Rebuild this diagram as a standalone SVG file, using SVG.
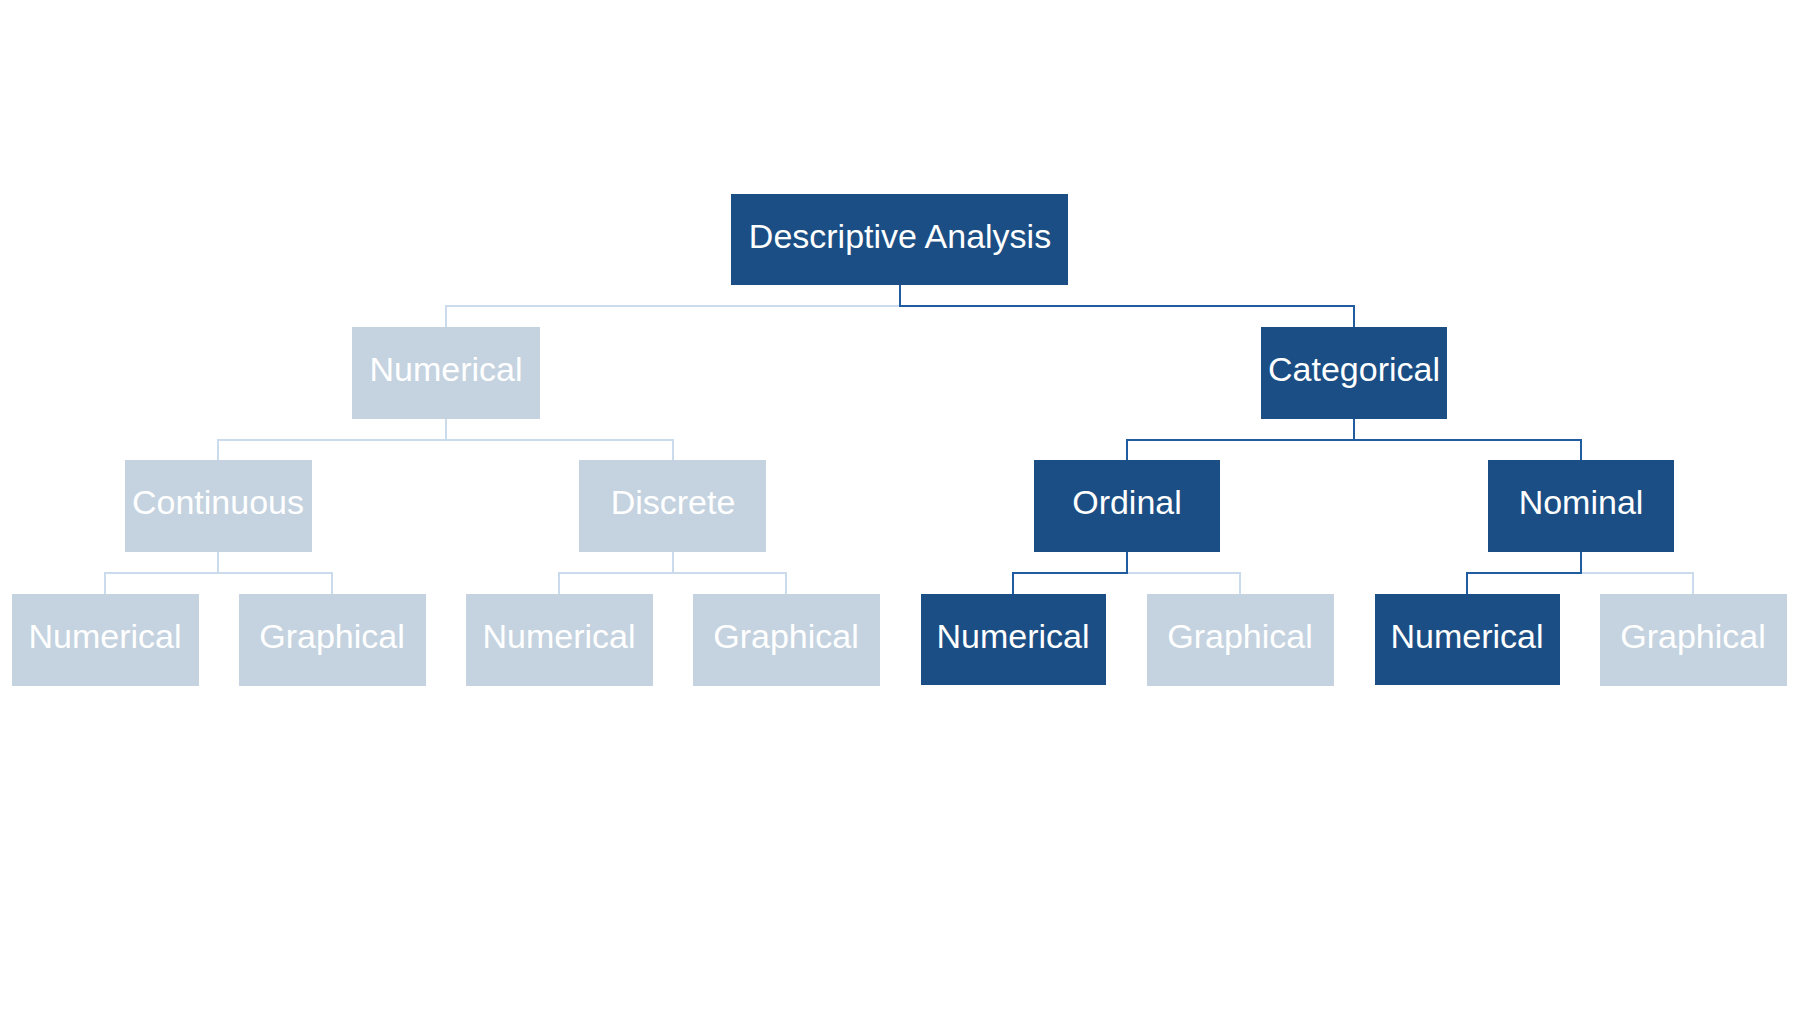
<svg xmlns="http://www.w3.org/2000/svg" width="1800" height="1013" viewBox="0 0 1800 1013">
<style>
.d{fill:#1b4e84}.l{fill:#c5d3e0}
text{font-family:"Liberation Sans",Arial,sans-serif;font-size:34px;fill:#fff;text-anchor:middle;dominant-baseline:central}
.cl{stroke:#c9dbec;stroke-width:2;fill:none}.cd{stroke:#1f5da0;stroke-width:2;fill:none}
</style>
<rect width="1800" height="1013" fill="#fff"/>
<g id="connectors">
<path class="cl" d="M900 306H446V327"/><path class="cd" d="M900 285V306H1354V327"/>
<path class="cl" d="M446 419V440M218 460V440H673V460"/>
<path class="cd" d="M1354 419V440M1127 460V440H1581V460"/>
<path class="cl" d="M218 552V573M105 594V573H332V594"/>
<path class="cl" d="M673 552V573M559 594V573H786V594"/>
<path class="cl" d="M1127 573H1240V594"/><path class="cd" d="M1127 552V573H1013V594"/>
<path class="cl" d="M1581 573H1693V594"/><path class="cd" d="M1581 552V573H1467V594"/>
</g>
<g id="root"><rect class="d" x="731" y="194" width="337" height="91"/><text x="900" y="236">Descriptive Analysis</text></g>
<g id="numerical"><rect class="l" x="352" y="327" width="188" height="92"/><text x="446" y="369">Numerical</text></g>
<g id="categorical"><rect class="d" x="1261" y="327" width="186" height="92"/><text x="1354" y="369">Categorical</text></g>
<g id="continuous"><rect class="l" x="125" y="460" width="187" height="92"/><text x="218" y="502">Continuous</text></g>
<g id="discrete"><rect class="l" x="579" y="460" width="187" height="92"/><text x="673" y="502">Discrete</text></g>
<g id="ordinal"><rect class="d" x="1034" y="460" width="186" height="92"/><text x="1127" y="502">Ordinal</text></g>
<g id="nominal"><rect class="d" x="1488" y="460" width="186" height="92"/><text x="1581" y="502">Nominal</text></g>
<g id="c-num"><rect class="l" x="12" y="594" width="187" height="92"/><text x="105" y="636">Numerical</text></g>
<g id="c-gra"><rect class="l" x="239" y="594" width="187" height="92"/><text x="332" y="636">Graphical</text></g>
<g id="d-num"><rect class="l" x="466" y="594" width="187" height="92"/><text x="559" y="636">Numerical</text></g>
<g id="d-gra"><rect class="l" x="693" y="594" width="187" height="92"/><text x="786" y="636">Graphical</text></g>
<g id="o-num"><rect class="d" x="921" y="594" width="185" height="91"/><text x="1013" y="636">Numerical</text></g>
<g id="o-gra"><rect class="l" x="1147" y="594" width="187" height="92"/><text x="1240" y="636">Graphical</text></g>
<g id="n-num"><rect class="d" x="1375" y="594" width="185" height="91"/><text x="1467" y="636">Numerical</text></g>
<g id="n-gra"><rect class="l" x="1600" y="594" width="187" height="92"/><text x="1693" y="636">Graphical</text></g>
</svg>
